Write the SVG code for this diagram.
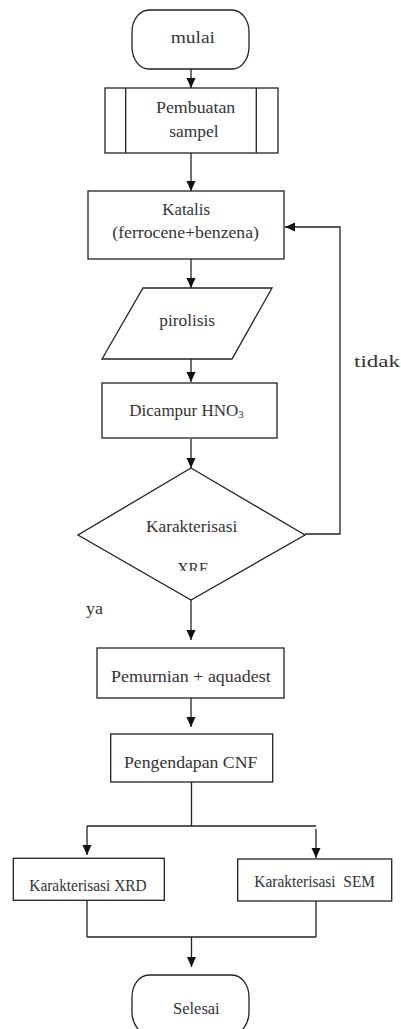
<svg xmlns="http://www.w3.org/2000/svg" width="401" height="1029" viewBox="0 0 401 1029">
<style>
.n{fill:#fff;stroke:#222;stroke-width:1.3}
.c{fill:none;stroke:#222;stroke-width:1.3}
.t{font-family:"Liberation Serif","Times New Roman",serif;font-size:17px;fill:#333}
</style>
<defs>
<marker id="ah" viewBox="0 0 10 10" refX="10" refY="5" markerWidth="10" markerHeight="10" markerUnits="userSpaceOnUse" orient="auto">
<path d="M0,0.5 L10,5 L0,9.5 Z" fill="#111"/>
</marker>
<clipPath id="xrfclip"><rect x="0" y="0" width="401" height="571"/></clipPath>
</defs>
<rect width="401" height="1029" fill="#fff"/>
<g id="connectors">
<line class="c" x1="191" y1="69" x2="191" y2="88" marker-end="url(#ah)"/>
<line class="c" x1="191" y1="153" x2="191" y2="191" marker-end="url(#ah)"/>
<line class="c" x1="191" y1="259" x2="191" y2="288" marker-end="url(#ah)"/>
<line class="c" x1="191" y1="359" x2="191" y2="382" marker-end="url(#ah)"/>
<line class="c" x1="191" y1="439" x2="191" y2="468" marker-end="url(#ah)"/>
<polyline class="c" points="305,534 340,534 340,227 285,227" marker-end="url(#ah)"/>
<line class="c" x1="191" y1="600" x2="191" y2="640" marker-end="url(#ah)"/>
<line class="c" x1="191" y1="698" x2="191" y2="727" marker-end="url(#ah)"/>
<line class="c" x1="191.5" y1="782" x2="191.5" y2="826"/>
<line class="c" x1="87" y1="826" x2="316" y2="826"/>
<line class="c" x1="87" y1="826" x2="87" y2="855" marker-end="url(#ah)"/>
<line class="c" x1="316" y1="829" x2="316" y2="858" marker-end="url(#ah)"/>
<line class="c" x1="87" y1="900" x2="87" y2="937"/>
<line class="c" x1="316" y1="901" x2="316" y2="937"/>
<line class="c" x1="87" y1="937" x2="316" y2="937"/>
<line class="c" x1="191.5" y1="937" x2="191.5" y2="967" marker-end="url(#ah)"/>
<text class="t" x="354" y="367" textLength="46" lengthAdjust="spacingAndGlyphs">tidak</text>
<text class="t" x="86" y="614" textLength="17" lengthAdjust="spacingAndGlyphs">ya</text>
</g>
<g id="mulai">
<rect class="n" x="132" y="10" width="117" height="59" rx="17" ry="22"/>
<text class="t" x="170.7" y="43" textLength="44.3" lengthAdjust="spacingAndGlyphs">mulai</text>
</g>
<g id="pembuatan">
<rect class="n" x="105" y="88" width="173" height="65"/>
<line class="c" x1="125.7" y1="88" x2="125.7" y2="153"/>
<line class="c" x1="256.3" y1="88" x2="256.3" y2="153"/>
<text class="t" x="156" y="113" textLength="79.3" lengthAdjust="spacingAndGlyphs">Pembuatan</text>
<text class="t" x="169.3" y="137" textLength="49.3" lengthAdjust="spacingAndGlyphs">sampel</text>
</g>
<g id="katalis">
<rect class="n" x="88" y="191" width="196" height="68"/>
<text class="t" x="162.3" y="215" textLength="47.7" lengthAdjust="spacingAndGlyphs">Katalis</text>
<text class="t" x="112.3" y="238" textLength="146.7" lengthAdjust="spacingAndGlyphs">(ferrocene+benzena)</text>
</g>
<g id="pirolisis">
<polygon class="n" points="143,288 272,288 232,359 102,359"/>
<text class="t" x="159.3" y="325.5" textLength="55.7" lengthAdjust="spacingAndGlyphs">pirolisis</text>
</g>
<g id="dicampur">
<rect class="n" x="102" y="383" width="175" height="55"/>
<text class="t" x="129.3" y="416">Dicampur HNO<tspan font-size="11" dy="2">3</tspan></text>
</g>
<g id="xrf">
<polygon class="n" points="191,468 305,535 191,600 78,535"/>
<text class="t" x="146" y="532" textLength="91.3" lengthAdjust="spacingAndGlyphs">Karakterisasi</text>
<text class="t" x="177.3" y="574" textLength="30.3" lengthAdjust="spacingAndGlyphs" clip-path="url(#xrfclip)">XRF</text>
</g>
<g id="pemurnian">
<rect class="n" x="97" y="648" width="187" height="50"/>
<text class="t" x="111" y="681.5" textLength="159.7" lengthAdjust="spacingAndGlyphs">Pemurnian + aquadest</text>
</g>
<g id="pengendapan">
<rect class="n" x="110.7" y="734" width="162" height="48"/>
<text class="t" x="124" y="768" textLength="133.3" lengthAdjust="spacingAndGlyphs">Pengendapan CNF</text>
</g>
<g id="xrd">
<rect class="n" x="13.3" y="858.3" width="151" height="42"/>
<text class="t" x="29.3" y="890.5" textLength="117.3" lengthAdjust="spacingAndGlyphs">Karakterisasi XRD</text>
</g>
<g id="sem">
<rect class="n" x="237.7" y="859" width="154" height="42"/>
<text class="t" x="254.3" y="887.3" textLength="120.7" lengthAdjust="spacingAndGlyphs" xml:space="preserve">Karakterisasi  SEM</text>
</g>
<g id="selesai">
<rect class="n" x="132" y="975" width="117" height="59" rx="17" ry="22"/>
<text class="t" x="173" y="1014" textLength="46.7" lengthAdjust="spacingAndGlyphs">Selesai</text>
</g>
</svg>
